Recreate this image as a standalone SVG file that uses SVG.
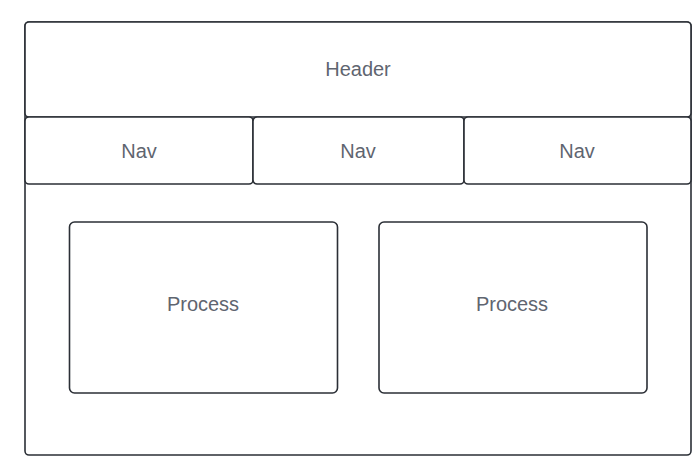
<svg xmlns="http://www.w3.org/2000/svg" width="697" height="475" viewBox="0 0 697 475">
<style>
.b{fill:#ffffff;stroke:#2b2f36;stroke-width:1.6}
.t{font-family:"Liberation Sans",Arial,sans-serif;font-size:20px;fill:#5f6570;text-anchor:middle}
</style>
<rect width="697" height="475" fill="#ffffff"/>
<g id="page"><rect class="b" x="25" y="22" width="666" height="433" rx="4"/></g>
<g id="header"><rect class="b" x="25" y="22" width="666" height="95" rx="4"/><text class="t" x="358" y="76">Header</text></g>
<g id="nav1"><rect class="b" x="25" y="117" width="228" height="67" rx="4"/><text class="t" x="139" y="158">Nav</text></g>
<g id="nav2"><rect class="b" x="253" y="117" width="211" height="67" rx="4"/><text class="t" x="358" y="158">Nav</text></g>
<g id="nav3"><rect class="b" x="464" y="117" width="227" height="67" rx="4"/><text class="t" x="577" y="158">Nav</text></g>
<g id="process1"><rect class="b" x="69.5" y="222" width="268" height="171" rx="5"/><text class="t" x="203" y="311">Process</text></g>
<g id="process2"><rect class="b" x="379" y="222" width="268" height="171" rx="5"/><text class="t" x="512" y="311">Process</text></g>
<g id="connectors"></g>
</svg>
